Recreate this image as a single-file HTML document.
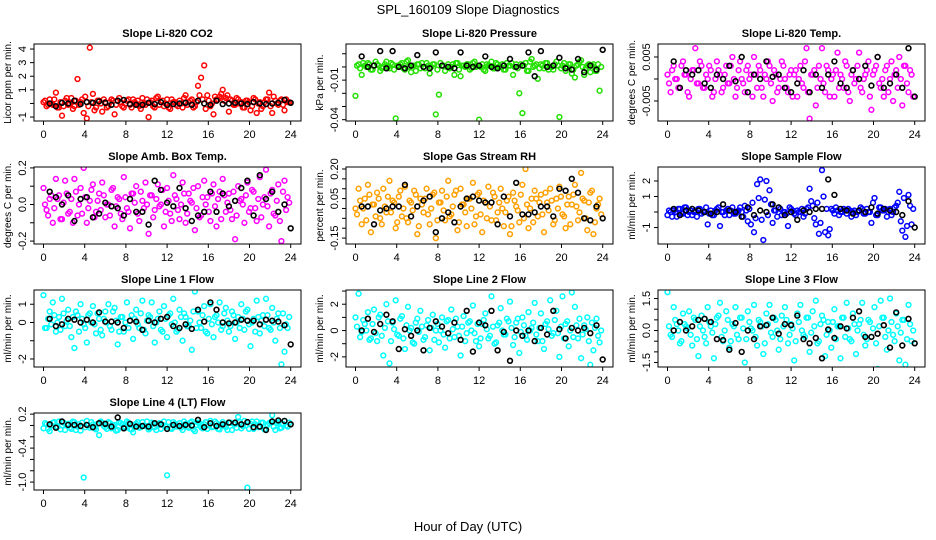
<!DOCTYPE html>
<html><head><meta charset="utf-8"><style>
html,body{margin:0;padding:0;background:#fff}
svg{display:block;font-family:"Liberation Sans",sans-serif}
</style></head><body>
<svg id="chart" width="936" height="540" viewBox="0 0 936 540">
<rect x="0" y="0" width="936" height="540" fill="#fff"/>
<text x="468" y="14" text-anchor="middle" font-size="13">SPL_160109  Slope Diagnostics</text>
<text x="468" y="531" text-anchor="middle" font-size="13">Hour of Day (UTC)</text>
<g id="panels"></g>
</svg>
<script>
const hoursC = [0.0,0.3,0.6,0.9,1.2,1.5,1.8,2.1,2.4,2.7,3.0,3.3,3.6,3.9,4.2,4.5,4.8,5.1,5.4,5.7,6.0,6.3,6.6,6.9,7.2,7.5,7.8,8.1,8.4,8.7,9.0,9.3,9.6,9.9,10.2,10.5,10.8,11.1,11.4,11.7,12.0,12.3,12.6,12.9,13.2,13.5,13.8,14.1,14.4,14.7,15.0,15.3,15.6,15.9,16.2,16.5,16.8,17.1,17.4,17.7,18.0,18.3,18.6,18.9,19.2,19.5,19.8,20.1,20.4,20.7,21.0,21.3,21.6,21.9,22.2,22.5,22.8,23.1,23.4,23.7];
const hoursC2 = [0.15,0.45,0.75,1.05,1.35,1.65,1.95,2.25,2.55,2.85,3.15,3.45,3.75,4.05,4.35,4.65,4.95,5.25,5.55,5.85,6.15,6.45,6.75,7.05,7.35,7.65,7.95,8.25,8.55,8.85,9.15,9.45,9.75,10.05,10.35,10.65,10.95,11.25,11.55,11.85,12.15,12.45,12.75,13.05,13.35,13.65,13.95,14.25,14.55,14.85,15.15,15.45,15.75,16.05,16.35,16.65,16.95,17.25,17.55,17.85,18.15,18.45,18.75,19.05,19.35,19.65,19.95,20.25,20.55,20.85,21.15,21.45,21.75,22.05,22.35,22.65,22.95,23.25,23.55,23.85];
const hoursK = [0.6,1.2,1.8,2.4,3.0,3.6,4.2,4.8,5.4,6.0,6.6,7.2,7.8,8.4,9.0,9.6,10.2,10.8,11.4,12.0,12.6,13.2,13.8,14.4,15.0,15.6,16.2,16.8,17.4,18.0,18.6,19.2,19.8,20.4,21.0,21.6,22.2,22.8,23.4,24.0];
const xTicks = [0,4,8,12,16,20,24];

const co2C = [0.1,-0.2,0.3,-0.1,0.8,-0.3,-0.9,0.2,-0.1,0.4,-0.2,1.8,0.1,-0.7,-1.1,4.1,0.7,-0.3,0.2,-0.6,0.1,-0.2,0.3,-0.8,0.2,0.1,-0.3,0.2,-0.1,0.3,0.0,-0.2,0.4,-0.1,-1.0,0.2,-0.3,0.5,0.1,-0.2,0.3,-0.4,0.1,-0.1,0.2,-0.3,0.6,0.1,0.3,-0.2,1.3,1.9,2.8,0.6,-0.2,-0.8,0.3,0.5,1.0,0.4,-0.6,0.2,-0.1,0.3,0.1,-0.3,0.2,-0.5,0.4,-0.7,0.1,-0.2,0.3,0.8,-0.7,0.2,-0.1,0.3,-0.5,0.1];
const co2C2 = [0.2,-0.1,0.0,0.3,-0.3,0.1,-0.2,0.4,0.0,-0.4,0.2,-0.1,0.3,0.5,-0.2,0.1,-0.5,0.2,0.0,0.3,-0.3,0.1,0.2,-0.1,0.4,-0.2,0.0,0.3,-0.3,0.1,0.2,-0.4,0.0,0.3,0.1,-0.2,0.4,-0.1,0.2,0.0,-0.3,0.3,0.1,-0.2,0.0,0.4,-0.1,0.2,-0.3,0.1,0.6,0.3,-0.4,0.2,0.0,0.5,0.3,0.7,0.2,0.6,0.3,-0.1,0.4,0.0,-0.3,0.2,0.1,-0.2,0.3,0.0,-0.4,0.1,0.3,-0.2,0.5,0.0,0.2,-0.1,0.3,0.1];
const co2K = [0,-0.2,0.05,0,0.2,-0.05,0.1,0.05,0.15,0.05,-0.1,0.2,0.25,-0.05,-0.1,-0.1,0.05,-0.05,0.1,-0.1,-0.05,0,0.05,-0.1,0.2,0,-0.1,0.2,-0.05,0,0.05,0,-0.05,0.1,0,-0.05,0,0.05,0.25,0.05];
const presC = [-0.022,0.002,-0.006,0.001,0.003,-0.002,0.001,0.002,-0.003,0.0,0.004,-0.001,0.002,-0.039,0.001,0.003,-0.002,0.005,-0.004,0.001,0.002,-0.001,0.0,0.003,-0.005,0.002,-0.036,-0.021,0.001,-0.003,0.002,0.0,-0.006,0.003,-0.007,0.001,0.002,-0.002,0.003,0.0,-0.040,0.002,-0.003,0.001,0.004,-0.001,0.002,0.0,-0.002,0.003,0.001,-0.006,0.002,-0.020,-0.035,0.003,-0.003,0.006,0.001,-0.009,0.002,-0.001,0.003,0.0,-0.002,0.004,-0.038,0.001,-0.003,0.002,-0.005,-0.008,0.002,0.005,-0.006,0.001,-0.004,0.002,-0.003,-0.018];
const presC2 = [0.001,-0.001,0.003,0.0,0.002,-0.002,0.004,0.001,-0.001,0.002,0.0,0.003,-0.002,0.001,0.002,-0.001,0.004,0.0,0.001,-0.003,0.002,0.003,-0.001,0.001,0.0,0.002,-0.002,0.003,0.001,0.0,-0.001,0.002,0.003,-0.002,0.001,0.0,0.002,-0.001,0.004,0.001,0.0,-0.002,0.002,0.001,-0.001,0.003,0.0,0.002,-0.002,0.001,0.003,0.0,-0.001,0.002,0.001,-0.003,0.004,0.0,0.002,-0.001,0.001,0.003,-0.002,0.0,0.002,0.001,-0.001,0.003,0.0,0.002,-0.002,0.001,0.004,0.0,-0.001,0.002,0.001,-0.003,0.002,0.0];
const presK = [0.008,0.0,0.001,0.012,-0.001,0.012,0.0,-0.001,0.001,0.009,0.0,-0.001,0.011,0.001,0.0,-0.001,0.011,0.001,0.0,0.001,0.008,0.0,-0.001,0.001,0.006,0.0,0.001,0.011,-0.007,0.012,0.0,0.001,0.007,-0.001,-0.002,0.006,-0.004,0.001,-0.002,0.013];
const tempC = [0.001,-0.003,0.003,0.0,-0.002,0.004,0.001,-0.004,0.002,0.007,-0.001,0.003,-0.002,0.0,0.002,-0.003,0.004,0.001,-0.002,0.003,-0.001,0.005,-0.004,0.002,0.0,-0.003,0.003,0.001,0.005,-0.002,0.002,-0.004,0.0,0.003,-0.005,0.001,-0.002,0.004,0.0,-0.003,0.002,0.001,-0.004,0.003,-0.002,0.007,-0.009,0.001,-0.006,0.003,0.007,-0.003,0.002,0.0,-0.004,0.006,0.001,-0.002,0.003,-0.005,0.002,0.0,0.006,-0.003,0.001,0.004,-0.007,0.002,0.005,-0.002,-0.004,0.003,0.0,-0.005,0.002,0.005,-0.006,0.003,-0.003,0.001];
const tempC2 = [-0.001,0.002,0.0,-0.002,0.003,0.001,-0.003,0.0,0.002,-0.001,0.004,-0.002,0.001,0.003,-0.004,0.0,0.002,-0.003,0.001,-0.001,0.003,0.0,-0.002,0.004,-0.001,0.002,0.0,-0.004,0.001,0.003,-0.002,0.001,0.004,-0.001,0.002,-0.003,0.0,0.003,-0.002,0.001,-0.004,0.002,0.0,-0.001,0.004,-0.003,0.001,0.002,-0.002,0.0,-0.001,0.003,-0.004,0.001,0.002,-0.002,0.0,0.004,-0.003,0.001,-0.001,0.003,-0.002,0.0,0.002,-0.004,0.001,0.003,-0.001,0.0,0.002,-0.003,0.004,0.001,-0.002,0.0,0.003,-0.001,0.002,-0.004];
const tempK = [0.004,-0.002,0.002,0.001,0.002,-0.001,-0.002,0.001,0.0,0.003,-0.0005,0.005,-0.003,0.001,0.0,0.004,0.0005,0.001,-0.002,-0.003,-0.001,0.002,-0.003,0.001,-0.002,0.001,0.004,-0.001,-0.002,0.002,0.0,0.003,-0.0015,0.005,-0.002,-0.001,0.001,-0.002,0.007,-0.004];
const ambC = [0.09,-0.03,0.03,-0.1,0.14,0.05,-0.08,0.13,-0.05,0.03,0.14,-0.06,0.09,0.2,-0.1,0.02,0.11,-0.04,0.06,0.12,-0.07,0.0,0.08,-0.12,0.04,-0.05,0.15,-0.02,-0.13,0.06,0.1,-0.09,0.02,0.12,-0.16,0.05,-0.03,0.11,0.0,-0.12,0.09,-0.05,0.16,0.03,-0.08,0.12,-0.1,0.06,0.01,-0.14,0.1,-0.06,0.13,0.04,-0.09,0.11,-0.12,0.07,0.14,-0.04,0.06,-0.08,-0.19,0.1,0.03,-0.1,0.12,-0.02,0.07,-0.09,0.15,0.0,0.19,-0.12,0.08,-0.06,0.11,-0.2,0.13,0.04];
const ambC2 = [0.0,-0.06,0.05,-0.02,0.03,-0.08,0.01,0.06,-0.04,-0.1,0.07,0.0,-0.05,0.04,-0.02,0.08,-0.07,0.02,-0.03,0.05,0.0,-0.06,0.09,-0.01,0.03,-0.08,0.04,-0.04,0.06,0.01,-0.05,0.07,-0.02,0.0,0.05,-0.07,0.03,-0.01,0.08,-0.04,0.02,-0.09,0.05,-0.03,0.0,0.06,-0.05,0.02,0.09,-0.02,-0.07,0.04,0.0,-0.04,0.06,-0.01,0.03,-0.08,0.05,0.01,-0.03,0.07,-0.06,0.02,0.0,0.05,-0.04,0.08,-0.02,0.03,-0.07,0.04,-0.01,0.06,-0.05,0.02,-0.09,0.07,-0.03,0.01];
const ambK = [0.07,0.04,0.0,0.05,-0.09,0.03,0.04,-0.07,-0.05,0.01,-0.01,-0.02,-0.06,0.03,-0.04,-0.04,-0.11,0.13,0.08,0.01,-0.01,0.09,-0.02,-0.09,-0.06,-0.04,0.07,-0.04,0.06,-0.01,0.02,0.09,0.13,-0.06,0.16,0.03,0.07,-0.04,0.0,-0.13];
const rhC = [0.0,0.1,-0.08,0.05,0.12,-0.12,0.02,0.08,-0.05,0.1,-0.02,0.14,0.04,-0.1,0.06,-0.04,0.11,-0.07,0.03,0.09,-0.13,0.05,-0.02,0.1,-0.08,0.07,-0.15,0.03,0.09,-0.06,0.14,-0.03,0.07,-0.11,0.1,0.02,-0.09,0.05,0.13,-0.04,0.08,-0.12,0.03,0.11,-0.06,0.06,-0.02,0.1,-0.09,0.04,-0.13,0.08,0.01,-0.07,0.12,0.2,-0.1,0.05,0.09,-0.04,0.07,-0.12,0.03,0.1,-0.08,0.05,0.11,-0.03,-0.1,0.06,0.02,0.12,-0.06,0.18,0.04,-0.11,0.08,-0.13,0.0,0.05];
const rhC2 = [-0.03,0.04,0.0,-0.06,0.07,0.02,-0.04,0.05,-0.08,0.01,0.06,-0.02,0.03,-0.07,0.09,0.0,-0.05,0.04,-0.01,0.07,-0.09,0.02,0.05,-0.03,0.0,0.08,-0.06,0.03,-0.01,0.06,-0.04,0.01,0.09,-0.07,0.02,-0.02,0.05,0.0,-0.08,0.07,-0.03,0.04,-0.05,0.01,0.08,-0.06,0.03,0.0,-0.02,0.06,-0.09,0.04,-0.01,0.07,-0.05,0.02,0.0,-0.07,0.05,0.03,-0.03,0.08,-0.01,0.04,-0.06,0.0,0.06,-0.04,0.02,-0.08,0.07,0.01,-0.02,0.05,-0.05,0.03,0.09,-0.07,0.02,-0.03];
const rhK = [0.01,0.01,-0.08,-0.01,0.0,0.01,0.01,0.12,-0.04,0.01,0.04,0.06,-0.12,-0.05,-0.02,-0.07,0.01,0.05,0.06,0.04,0.03,0.03,-0.08,0.06,-0.04,0.13,-0.03,-0.03,-0.02,0.01,0.01,-0.04,0.1,0.09,0.15,0.08,-0.05,-0.06,0.01,-0.05];
const sflowC = [-0.2,0.0,0.1,-0.3,0.2,-0.1,0.3,0.0,-0.2,0.1,0.2,-0.1,0.0,-0.8,0.1,-0.2,0.2,-0.9,0.0,0.1,-0.2,0.3,-0.1,0.1,0.0,0.4,-0.6,-0.8,-1.3,1.8,2.1,-1.8,2.0,1.4,-0.7,0.1,0.3,-0.2,0.0,-0.9,0.2,-0.1,0.1,0.0,-0.3,0.2,1.5,0.4,-0.8,-1.4,2.7,-1.3,-1.5,0.2,-0.1,0.1,0.0,0.2,-0.1,0.1,0.0,-0.2,0.1,0.2,-0.1,0.0,-0.7,0.9,-0.2,0.3,0.1,-0.3,0.2,0.0,0.4,1.3,-1.2,-1.6,1.1,-0.8];
const sflowC2 = [0.1,-0.3,0.0,0.2,-0.1,0.3,-0.2,0.1,0.0,-0.3,0.2,0.0,0.3,-0.1,-0.2,0.1,0.3,0.0,-0.2,0.2,0.1,-0.1,0.0,0.3,-0.3,0.1,0.2,0.6,-0.4,0.9,-0.5,0.8,-0.2,0.5,0.1,-0.3,0.2,0.0,-0.1,0.3,0.1,-0.2,0.0,0.2,-0.1,0.3,0.7,-0.4,0.6,-0.7,1.0,0.2,-1.1,0.1,0.3,-0.2,0.0,0.1,0.2,-0.3,0.1,0.0,0.3,-0.1,0.2,0.0,0.6,-0.2,0.3,0.1,0.2,0.0,-0.2,0.3,0.6,-0.6,0.9,-0.9,0.4,0.2];
const sflowK = [0.2,-0.2,0.1,0.2,0.1,0.0,-0.1,0.0,0.5,0.1,0.0,-0.3,0.3,-0.2,0.1,0.0,0.5,0.3,-0.2,0.0,-0.5,0.1,0.0,0.2,0.2,2.1,1.1,0.2,0.1,-0.1,0.1,0.0,0.3,-0.1,0.2,0.1,0.0,-0.2,0.7,-1.0];
const line1C = [1.5,-0.3,0.6,1.1,-0.5,0.3,1.3,-0.2,0.7,-0.8,-1.4,0.4,1.0,-0.1,-1.1,0.5,0.9,-0.6,0.2,-0.7,0.6,1.0,-0.4,0.8,-1.2,0.3,-0.5,1.1,0.1,-0.9,0.7,-0.3,1.2,-0.6,0.4,1.1,-1.1,0.2,-0.4,0.9,-0.8,0.5,1.3,-0.5,0.7,-1.0,0.3,-0.2,-1.5,1.7,0.6,-0.3,0.9,-0.6,1.0,-0.8,0.4,1.1,-0.2,0.8,-0.5,0.6,-0.9,0.3,1.0,-0.4,0.7,-1.3,0.2,1.2,-0.6,0.4,1.3,-0.3,0.8,-1.0,0.5,-2.3,-1.6,-0.3];
const line1C2 = [-0.3,0.2,-0.1,0.4,0.0,-0.4,0.5,0.1,-0.2,0.3,0.6,-0.5,0.2,-0.3,0.4,0.0,-0.1,0.5,-0.4,0.2,0.0,-0.2,0.6,0.1,-0.5,0.3,0.0,-0.3,0.4,0.2,-0.1,0.5,-0.4,0.1,0.3,-0.2,0.0,0.6,-0.5,0.2,0.4,-0.1,0.0,-0.4,0.3,0.5,-0.2,0.1,0.6,-0.3,0.0,0.4,-0.5,0.2,-0.1,0.3,0.0,-0.4,0.5,0.1,-0.2,0.4,0.0,-0.3,0.2,0.6,-0.1,0.0,-0.5,0.3,0.1,-0.2,0.4,-0.4,0.0,0.2,-0.3,0.5,-0.1,0.3];
const line1K = [0.2,-0.2,-0.1,0.2,0.15,0.0,0.15,0.0,0.55,0.05,0.05,0.0,-0.3,0.1,0.05,-0.4,0.1,0.0,0.2,0.3,-0.2,-0.3,-0.1,-0.35,0.7,0.05,1.1,0.7,0.0,-0.05,0.0,0.15,0.1,0.1,-0.1,0.15,0.1,0.05,-0.15,-1.2];
const line2C = [1.0,2.8,-0.1,0.5,1.4,-0.6,1.6,-0.8,1.2,-1.9,2.0,-2.5,0.6,2.3,-0.4,1.1,-1.4,1.8,0.2,-1.0,0.9,1.5,-0.7,0.4,-1.5,1.2,0.0,-0.9,1.0,-1.3,0.8,1.6,-0.5,0.3,-1.9,1.1,-0.2,0.7,1.9,-0.8,-1.2,0.5,1.3,-0.6,2.6,-1.0,0.4,1.7,-0.3,0.9,2.2,-1.1,0.6,-1.7,1.0,-0.4,1.4,0.2,2.1,-0.8,1.3,-1.4,0.7,2.3,-0.2,1.5,-2.0,2.6,0.5,-1.2,2.9,1.8,-0.6,-2.1,0.4,1.0,-2.6,-1.5,0.9,-0.9];
const line2C2 = [0.3,-0.5,0.8,0.0,-0.7,0.5,-0.2,1.0,-0.4,0.2,0.7,-0.8,0.1,-0.3,0.9,-0.6,0.4,0.0,-0.9,0.6,-0.1,0.3,-0.5,0.8,0.2,-0.7,0.5,0.0,-0.3,0.7,-0.6,0.1,0.9,-0.4,0.3,-0.8,0.6,0.0,-0.2,0.5,-0.6,0.8,0.1,-0.4,0.3,-0.9,0.6,0.0,-0.3,0.7,0.2,-0.5,0.9,-0.1,0.4,-0.7,0.0,0.6,-0.3,0.2,-0.8,0.5,0.1,-0.4,0.8,-0.2,0.3,-0.6,0.7,0.0,-0.5,0.4,0.9,-0.3,0.1,-0.8,0.6,0.2,-0.4,0.0];
const line2K = [0.0,0.9,-0.1,0.5,1.2,0.7,-1.4,0.1,-0.4,0.0,-1.5,0.2,0.7,0.3,-0.2,0.6,-0.7,1.5,-1.6,0.6,0.4,1.5,-1.5,-0.1,-2.3,0.0,-0.4,0.0,-0.8,0.2,-0.3,1.5,0.1,-0.6,0.2,0.0,0.2,-0.2,0.4,-2.2];
const line3C = [1.8,-0.2,1.1,0.3,-0.6,0.8,0.2,0.9,-0.7,0.5,-1.2,0.7,-0.3,1.1,0.2,-1.3,0.6,1.3,-0.5,0.9,-0.8,0.3,1.1,-0.4,0.6,-1.5,0.9,0.1,1.2,-0.7,0.4,-1.1,0.8,1.2,-0.3,0.5,-0.9,0.7,1.1,-0.6,0.3,-1.4,0.8,1.2,-0.2,0.6,-1.0,0.9,1.4,-0.5,0.7,-1.2,0.4,-0.8,1.0,0.2,-1.3,0.6,1.3,-0.4,0.8,-1.1,0.3,1.3,-0.7,0.5,-0.3,1.1,-1.8,1.4,0.6,-0.9,1.5,-0.2,0.8,-1.4,0.5,-1.6,1.2,-0.5];
const line3C2 = [0.2,-0.3,0.5,0.0,-0.5,0.3,0.1,-0.2,0.6,-0.4,0.2,0.0,-0.6,0.4,-0.1,0.3,0.7,-0.3,0.0,0.5,-0.5,0.2,-0.2,0.6,0.1,-0.4,0.4,0.0,-0.3,0.5,0.2,-0.6,0.3,-0.1,0.6,0.0,-0.4,0.2,0.5,-0.2,0.1,-0.5,0.4,0.0,-0.3,0.6,-0.1,0.2,-0.6,0.3,0.5,-0.2,0.0,0.4,-0.4,0.2,0.6,-0.3,0.1,-0.5,0.3,0.0,0.5,-0.2,-0.4,0.4,0.1,-0.6,0.2,0.6,-0.3,0.0,0.4,-0.5,0.2,-0.1,0.5,-0.4,0.3,0.0];
const line3K = [0.0,0.4,0.0,0.2,0.5,0.55,0.4,-0.4,-0.45,-0.9,0.35,-1.0,0.0,-0.4,0.2,0.25,0.6,-0.15,0.3,0.25,0.7,-0.4,-0.6,-0.35,-1.3,0.05,-0.35,0.2,0.1,0.6,0.9,-0.3,-0.3,-0.15,0.25,-0.8,0.85,-0.7,0.55,-0.6];
const line4C = [-0.05,0.02,-0.1,0.05,-0.03,0.07,0.0,-0.08,0.03,-0.06,0.06,-0.02,-0.09,-0.92,0.08,-0.04,0.02,-0.07,-0.17,0.05,-0.03,0.06,-0.05,0.01,-0.08,0.04,-0.02,0.07,-0.06,-0.12,0.03,-0.04,0.06,-0.01,-0.07,0.05,-0.03,0.02,-0.06,0.07,-0.88,-0.05,0.06,-0.02,0.04,-0.08,0.03,-0.04,0.07,-0.1,0.05,-0.03,0.02,-0.06,0.08,-0.02,0.04,-0.07,0.06,-0.03,0.05,-0.08,0.02,0.15,-0.05,0.08,-1.1,0.03,-0.06,0.07,-0.02,0.05,-0.07,0.04,0.18,-0.08,0.06,-0.04,0.08,-0.02];
const line4C2 = [0.04,-0.06,0.0,0.06,-0.02,-0.07,0.05,0.01,-0.04,0.07,-0.08,0.02,0.05,-0.03,0.0,0.06,-0.05,0.03,0.07,-0.01,-0.06,0.04,0.0,-0.09,0.06,0.02,-0.04,0.05,-0.07,0.01,0.06,-0.03,0.0,0.07,-0.05,0.03,-0.08,0.04,0.01,-0.02,0.06,-0.06,0.03,0.0,-0.04,0.07,-0.02,0.05,-0.07,0.01,0.04,-0.05,0.06,0.0,-0.03,0.07,-0.06,0.02,0.0,-0.08,0.05,0.03,-0.04,0.06,-0.01,0.0,-0.06,0.07,0.02,-0.03,0.05,-0.07,0.01,0.06,-0.02,0.04,-0.05,0.03,0.0,0.05];
const line4K = [0.02,-0.04,0.07,0.01,0.01,-0.01,0.01,-0.03,0.04,0.03,-0.02,0.14,-0.05,0.03,-0.02,-0.01,-0.02,0.04,0.02,-0.06,0.01,-0.01,0.01,0.0,0.1,-0.03,0.04,-0.01,0.02,0.05,0.05,0.02,0.06,-0.03,-0.02,-0.08,0.07,0.09,0.08,0.02];

const titles = ["Slope Li-820 CO2","Slope Li-820 Pressure","Slope Li-820 Temp.","Slope Amb. Box Temp.","Slope Gas Stream RH","Slope Sample Flow","Slope Line 1 Flow","Slope Line 2 Flow","Slope Line 3 Flow","Slope Line 4 (LT) Flow"];
const yTitles = ["Licor ppm per min.","kPa per min.","degrees C per min.","degrees C per min.","percent per min.","ml/min per min.","ml/min per min.","ml/min per min.","ml/min per min.","ml/min per min."];
const yTickVals = [[-1,0,1,2,3,4],[0.01,0,-0.01,-0.02,-0.03,-0.04],[0.005,0,-0.005],[-0.2,-0.1,0,0.1,0.2],[0.2,0.15,0.1,0.05,0,-0.05,-0.1,-0.15],[-1,0,1,2],[-2,-1,0,1],[-2,-1,0,1,2,3],[-1.5,-1,-0.5,0,0.5,1,1.5],[0.2,0,-0.2,-0.4,-0.6,-0.8,-1.0]];
const yTickLabels = [["-1","","1","2","3","4"],["","","-0.01","","","-0.04"],["0.005","","-0.005"],["-0.2","","0.0","","0.2"],["0.20","","","0.05","","","","-0.15"],["-1","","1","2"],["-2","","0","1"],["-2","","0","","2",""],["-1.5","","","0.0","","","1.5"],["0.2","","","-0.4","","","-1.0"]];
const yLims = [[-1.29,4.37],[-0.041,0.0174],[-0.00955,0.00795],[-0.216,0.205],[-0.18,0.21],[-2.06,2.9],[-2.44,1.78],[-2.77,3.08],[-1.71,1.9],[-1.14,0.22]];
const colorSeries = [co2C,presC,tempC,ambC,rhC,sflowC,line1C,line2C,line3C,line4C];
const colorSeries2 = [co2C2,presC2,tempC2,ambC2,rhC2,sflowC2,line1C2,line2C2,line3C2,line4C2];
const blackSeries = [co2K,presK,tempK,ambK,rhK,sflowK,line1K,line2K,line3K,line4K];
const colors = ["#ff0000","#22e000","#ff00ff","#ff00ff","#ffa000","#0000ff","#00ffff","#00ffff","#00ffff","#00ffff"];

const NS = "http://www.w3.org/2000/svg";
const root = document.getElementById("panels");
const colLeft = [34,346,658], rowTop = [44,167,290,413], boxW = 267, boxH = 77;
function mk(tag, attrs, parent){const e=document.createElementNS(NS,tag);for(const k in attrs)e.setAttribute(k,attrs[k]);parent.appendChild(e);return e;}

for (let p = 0; p < 10; p++) {
  const L = colLeft[p % 3], T = rowTop[Math.floor(p / 3)];
  const g = mk("g", {}, root);
  
  
  const xs = h => L + 9.5 + h * 10.3;
  const [y0, y1] = yLims[p];
  const ys = v => T + boxH - (v - y0) / (y1 - y0) * boxH;

  const t = mk("text", {x: L + boxW / 2, y: T - 7, "text-anchor": "middle", "font-size": "11", "font-weight": "bold"}, g);
  t.textContent = titles[p];
  
  

  const clip = mk("clipPath", {id: "c" + p}, g);
  mk("rect", {x: L, y: T, width: boxW, height: boxH}, clip);
  const pts = mk("g", {"clip-path": "url(#c" + p + ")"}, g);

  const cs = colorSeries[p];
  for (let i = 0; i < cs.length; i++) {
    const c = mk("circle", {cx: xs(hoursC[i]).toFixed(1), cy: ys(cs[i]).toFixed(1), r: 2.4, fill: "none", stroke: colors[p], "stroke-width": 1.5}, pts);
    
    
  }
  const cs2 = colorSeries2[p];
  for (let i = 0; i < cs2.length; i++) {
    const c = mk("circle", {cx: xs(hoursC2[i]).toFixed(1), cy: ys(cs2[i]).toFixed(1), r: 2.4, fill: "none", stroke: colors[p], "stroke-width": 1.5}, pts);
    
    
  }
  const ks = blackSeries[p];
  for (let i = 0; i < ks.length; i++) {
    const c = mk("circle", {cx: xs(hoursK[i]).toFixed(1), cy: ys(ks[i]).toFixed(1), r: 2.4, fill: "none", stroke: "#000", "stroke-width": 1.6}, pts);
    
    
  }

  const box = mk("rect", {x: L, y: T, width: boxW, height: boxH, fill: "none", stroke: "#000", "stroke-width": 1}, g);
  
  

  for (const h of xTicks) {
    const x = xs(h);
    mk("line", {x1: x, x2: x, y1: T + boxH, y2: T + boxH + 4, stroke: "#000"}, g);
    const tl = mk("text", {x: x, y: T + boxH + 17, "text-anchor": "middle", "font-size": "11"}, g);
    tl.textContent = h;
    
    
  }
  const tv = yTickVals[p], tls = yTickLabels[p];
  for (let i = 0; i < tv.length; i++) {
    const y = ys(tv[i]);
    mk("line", {x1: L - 4, x2: L, y1: y, y2: y, stroke: "#000"}, g);
    if (tls[i]) {
      const tl = mk("text", {x: L - 8, y: y, "text-anchor": "middle", "font-size": "11", transform: "rotate(-90 " + (L - 8) + " " + y + ")"}, g);
      tl.textContent = tls[i];
      
      
    }
  }
  const yt = mk("text", {x: L - 23, y: T + boxH / 2, "text-anchor": "middle", "font-size": "10", transform: "rotate(-90 " + (L - 23) + " " + (T + boxH / 2) + ")"}, g);
  yt.textContent = yTitles[p];
  
  
}
</script>
</body></html>
